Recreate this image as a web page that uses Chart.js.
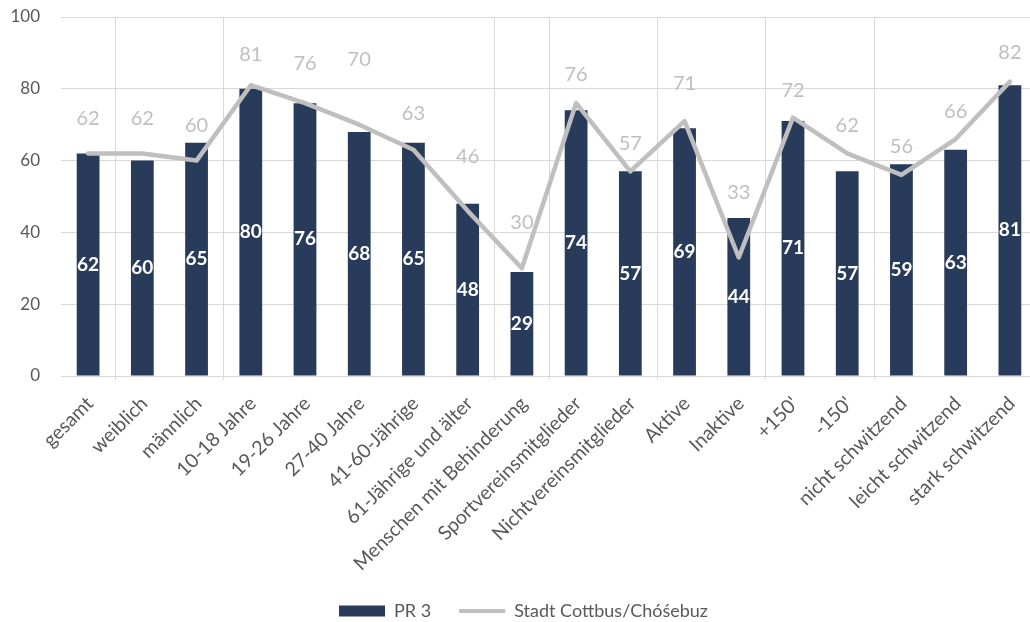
<!DOCTYPE html>
<html>
<head>
<meta charset="utf-8">
<script src="https://cdn.jsdelivr.net/npm/chart.js@4.4.1/dist/chart.umd.min.js"></script>
<style>
html,body{margin:0;padding:0;background:#fff;overflow:hidden;width:1030px;height:622px}
#wrap{width:1040px;height:630px}
canvas{display:block}
</style>
</head>
<body>
<div id="wrap"><canvas id="c" width="1040" height="630"></canvas></div>
<script>
// ---- data ----
const categories = ["gesamt","weiblich","männlich","10-18 Jahre","19-26 Jahre","27-40 Jahre","41-60-Jährige","61-Jährige und älter","Menschen mit Behinderung","Sportvereinsmitglieder","Nichtvereinsmitglieder","Aktive","Inaktive","+150'","-150'","nicht schwitzend","leicht schwitzend","stark schwitzend"];
const pr3Values = [62,60,65,80,76,68,65,48,29,74,57,69,44,71,57,59,63,81];
const cottbusValues = [62,62,60,81,76,70,63,46,30,76,57,71,33,72,62,56,66,82];
const seriesNames = ["PR 3","Stadt Cottbus/Chóśebuz"];
const yMin = 0, yMax = 100, yStep = 20;
// category indices where a new group starts (vertical separators)
const groupStarts = [1,3,8,9,11,13,15];
// label placement (px above the line point), style only
const lineLabelLift = [35,35,35,31,40,65,36,54,46,29,28,38,65,27,28,28,28,29];

const BAR = '#283b5a', LINE = '#bfbfbf', GRID = '#d9d9d9', TXT = '#595959';
const FONT = 'Lato';

const valueLabels = {
  id: 'valueLabels',
  afterDatasetsDraw(chart) {
    const ctx = chart.ctx;
    ctx.save();
    ctx.textAlign = 'center';
    ctx.textBaseline = 'middle';
    const bm = chart.getDatasetMeta(0);
    ctx.font = 'bold 19px ' + FONT;
    ctx.fillStyle = '#ffffff';
    bm.data.forEach((el, i) => {
      const p = el.getProps(['x','y','base'], true);
      ctx.fillText(String(pr3Values[i]), p.x, (p.y + p.base) / 2);
    });
    const lm = chart.getDatasetMeta(1);
    ctx.font = '20px ' + FONT;
    ctx.fillStyle = LINE;
    lm.data.forEach((el, i) => {
      const p = el.getProps(['x','y'], true);
      ctx.fillText(String(cottbusValues[i]), p.x, p.y - lineLabelLift[i]);
    });
    ctx.restore();
  }
};

const sepColor = c => (groupStarts.includes(c.index) ? GRID : 'rgba(0,0,0,0)');

new Chart(document.getElementById('c'), {
  data: {
    labels: categories,
    datasets: [
      { type: 'bar', label: seriesNames[0], data: pr3Values, backgroundColor: BAR,
        barPercentage: 0.42, categoryPercentage: 1, order: 1, pointStyle: 'rect' },
      { type: 'line', label: seriesNames[1], data: cottbusValues, borderColor: LINE, backgroundColor: LINE,
        borderWidth: 4.5, pointRadius: 0, tension: 0, borderJoinStyle: 'round', borderCapStyle: 'round',
        order: 0, pointStyle: 'line' }
    ]
  },
  options: {
    responsive: false,
    animation: false,
    devicePixelRatio: 1,
    events: [],
    layout: { padding: { top: 0, left: 10, right: 3, bottom: 0 } },
    scales: {
      x: {
        grid: { offset: true, color: sepColor, tickColor: sepColor, tickLength: 4, lineWidth: 1 },
        border: { display: false },
        ticks: { autoSkip: false, maxRotation: 45, minRotation: 45, color: TXT, padding: 12, labelOffset: 2,
                 font: { family: FONT, size: 19.5 } },
        afterFit: s => { s.height = 198; }
      },
      y: {
        min: yMin, max: yMax,
        grid: { color: GRID, drawTicks: false, lineWidth: 1 },
        border: { display: false },
        ticks: { stepSize: yStep, color: TXT, padding: 21, font: { family: FONT, size: 17 } },
        afterFit: s => { s.width = 51; s.paddingTop = 17; s.paddingBottom = 0; }
      }
    },
    plugins: {
      tooltip: { enabled: false },
      legend: {
        position: 'bottom',
        labels: {
          usePointStyle: true, pointStyleWidth: 46, boxWidth: 46, boxHeight: 11,
          padding: 28, color: TXT, font: { family: FONT, size: 18 },
          sort: (a, b) => a.datasetIndex - b.datasetIndex,
          generateLabels: chart => {
            const items = Chart.defaults.plugins.legend.labels.generateLabels(chart);
            items.forEach(it => {
              if (it.datasetIndex === 0) {
                it.pointStyle = 'rect'; it.fillStyle = BAR; it.strokeStyle = BAR; it.lineWidth = 0;
              } else {
                it.pointStyle = 'line'; it.strokeStyle = LINE; it.fillStyle = LINE; it.lineWidth = 4;
              }
            });
            return items;
          }
        }
      }
    }
  },
  plugins: [valueLabels]
});
</script>
</body>
</html>
